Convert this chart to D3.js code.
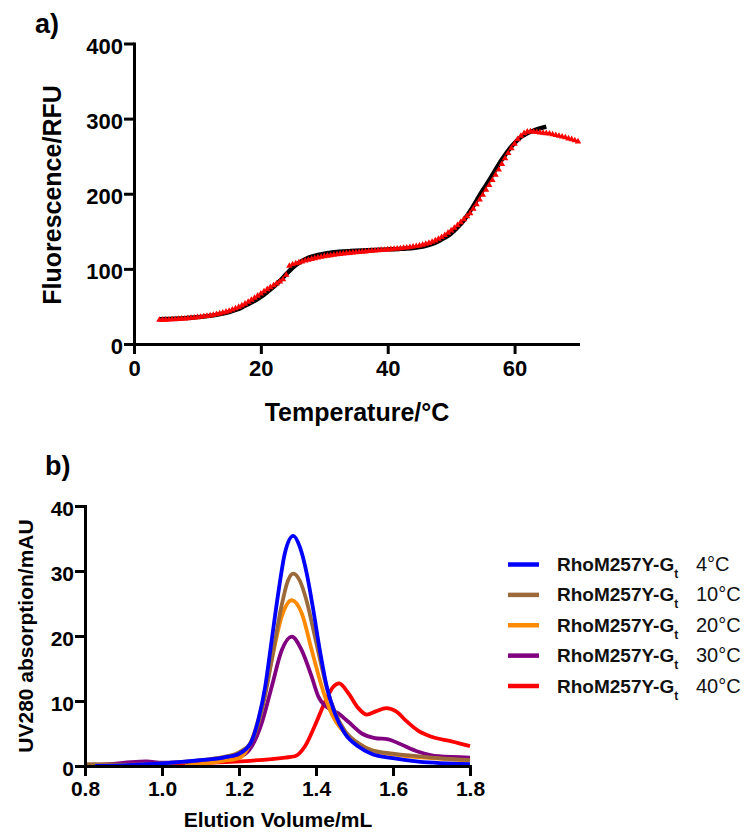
<!DOCTYPE html>
<html>
<head>
<meta charset="utf-8">
<script src="https://cdn.jsdelivr.net/npm/d3@7"></script>
<style>
  html, body { margin: 0; padding: 0; background: #fff; }
  svg { display: block; }
</style>
</head>
<body>
<svg id="fig" width="745" height="833"></svg>
<script>
// ---------- Panel a: thermal melt (DSF) ----------
// fitted curve, [temperature °C, fluorescence RFU]
const fitCurve = [
  [4,33],[5,33.3],[6,33.6],[7,34],[8,34.4],[9,35],[10,35.7],[11,36.5],[12,37.5],[13,38.8],
  [14,40.4],[15,42.5],[16,45.2],[17,48.7],[18,53],[19,57.5],[20,62.5],[21,69],[22,76],[23,84],
  [24,93],[25,101.5],[26,108],[27,112.8],[28,116.2],[29,118.6],[30,120.3],[31,121.5],[32,122.4],
  [33,123.1],[34,123.7],[35,124.2],[36,124.6],[37,125],[38,125.3],[39,125.6],[40,125.9],[41,126.2],
  [42,126.6],[43,127.1],[44,127.8],[45,128.9],[46,130.6],[47,133.2],[48,136.8],[49,141.5],[50,147],
  [51,155],[52,164.5],[53,177],[54,191],[55,205],[56,218],[57,232],[58,245.5],[59,257.5],[60,267.5],
  [61,275.5],[62,280.5],[63,284],[64,287],[65,289.5]
];
// measured points, [temperature °C, fluorescence RFU]
const meltPoints = [
  [4,32],[4.5,32],[5,32.2],[5.5,32.4],[6,32.6],[6.5,32.9],[7,33.2],[7.5,33.5],[8,33.8],[8.5,34.2],
  [9,34.6],[9.5,35],[10,35.5],[10.5,36],[11,36.6],[11.5,37.2],[12,37.9],[12.5,38.7],[13,39.6],[13.5,40.5],
  [14,41.6],[14.5,42.8],[15,44.1],[15.5,45.6],[16,47.3],[16.5,49.2],[17,51.2],[17.5,53.5],[18,56],[18.5,58.6],
  [19,61.4],[19.5,64.2],[20,67],[20.5,70],[21,72.8],[21.5,75.5],[22,78],[22.5,80.5],[23,83],[23.5,86],
  [24,92],[24.5,104],[25,106],[25.5,107.3],[26,108.4],[26.5,109.6],[27,110.8],[27.5,112],[28,113.1],[28.5,114.1],
  [29,115],[29.5,115.9],[30,116.7],[30.5,117.4],[31,118],[31.5,118.6],[32,119.2],[32.5,119.7],[33,120.2],[33.5,120.7],
  [34,121.1],[34.5,121.5],[35,121.9],[35.5,122.3],[36,122.7],[36.5,123.1],[37,123.5],[37.5,123.9],[38,124.3],[38.5,124.6],
  [39,125],[39.5,125.3],[40,125.7],[40.5,126.1],[41,126.5],[41.5,126.9],[42,127.3],[42.5,127.8],[43,128.3],[43.5,128.9],
  [44,129.5],[44.5,130.2],[45,131],[45.5,132],[46,133.1],[46.5,134.4],[47,135.9],[47.5,137.7],[48,139.8],[48.5,142.2],
  [49,144.9],[49.5,148],[50,151],[50.5,154.5],[51,158],[51.5,162],[52,166],[52.5,170],[53,174],[53.5,180],
  [54,186],[54.5,192],[55,198.5],[55.5,205],[56,211.5],[56.5,218],[57,225],[57.5,232],[58,239.5],[58.5,247],
  [59,254],[59.5,260.5],[60,266.5],[60.5,272.5],[61,277],[61.5,280.5],[62,282.5],[62.5,283],[63,282.5],[63.5,282],
  [64,281.5],[64.5,281],[65,280.5],[65.5,280],[66,279],[66.5,278],[67,277],[67.5,276],[68,275],[68.5,273.5],
  [69,272.5],[69.5,271],[70,269.5]
];
const meltTempTicks = [0, 20, 40, 60];
const meltRfuTicks = [0, 100, 200, 300, 400];

// ---------- Panel b: size-exclusion chromatograms ----------
// [elution volume mL, UV280 mAU]
const trace4C = [
  [0.826,0],[0.9,0.1],[1.0,0.4],[1.1,0.9],[1.16,1.3],[1.2,1.9],[1.23,3.5],[1.25,7.1],[1.268,12.2],
  [1.285,19.4],[1.302,26.6],[1.319,32.7],[1.341,35.4],[1.358,33.7],[1.376,29.6],[1.393,24],[1.41,17.8],
  [1.428,12.2],[1.449,8.1],[1.475,5],[1.51,3],[1.545,1.85],[1.6,1.2],[1.666,0.67],[1.8,0.3]
];
const trace10C = [
  [0.8,0.3],[0.85,0.25],[0.9,0.2],[1.0,0.4],[1.1,0.9],[1.16,1.4],[1.2,2.1],[1.23,3.5],[1.25,6.5],
  [1.27,11.5],[1.29,18],[1.31,24.5],[1.327,28.5],[1.341,29.6],[1.358,28.5],[1.376,25.3],[1.393,21],
  [1.41,16.5],[1.428,12],[1.449,8.3],[1.475,5.4],[1.51,3.5],[1.545,2.4],[1.6,1.9],[1.7,1.3],[1.8,0.9]
];
const trace20C = [
  [1.06,0],[1.1,0.3],[1.16,0.8],[1.2,1.2],[1.233,4],[1.259,9.1],[1.285,16.3],[1.311,23],[1.337,25.5],
  [1.363,23.5],[1.389,17.8],[1.415,12.2],[1.44,8.1],[1.47,5.4],[1.51,3.5],[1.545,2.4],[1.6,1.8],
  [1.7,1.2],[1.8,0.8]
];
const trace30C = [
  [0.8,0.1],[0.87,0.3],[0.92,0.6],[0.96,0.7],[1.0,0.5],[1.1,0.8],[1.16,1.1],[1.2,1.4],[1.233,3],
  [1.259,6.6],[1.285,12.2],[1.311,17.8],[1.337,19.9],[1.363,17.8],[1.389,13.7],[1.406,10.7],[1.432,8.9],
  [1.458,8.1],[1.484,6.8],[1.519,5],[1.553,4.3],[1.588,4.1],[1.614,3.5],[1.666,2.2],[1.718,1.5],[1.8,1.3]
];
const trace40C = [
  [0.8,0.15],[0.9,0.3],[1.06,0.4],[1.19,0.67],[1.32,1.3],[1.345,1.5],[1.371,3],[1.397,6.2],[1.423,9.8],
  [1.445,12.2],[1.46,12.7],[1.484,11.2],[1.51,8.9],[1.532,7.9],[1.555,8.4],[1.583,8.9],[1.608,8.4],
  [1.635,6.9],[1.666,5.4],[1.7,4.5],[1.752,3.8],[1.8,3.05]
];
const secTemps = ["4°C", "10°C", "20°C", "30°C", "40°C"];
const secColors = ["#0000ff", "#9c6a3a", "#ff8a00", "#800080", "#ff0000"];
const secVolumeTicks = [0.8, 1.0, 1.2, 1.4, 1.6, 1.8];
const secAbsTicks = [0, 10, 20, 30, 40];

const FONT = "'Liberation Sans', Arial, Helvetica, sans-serif";
const svg = d3.select("#fig");

function styleAxis(g, fontSize) {
  g.select(".domain").attr("stroke", "#000").attr("stroke-width", 3).attr("stroke-linecap", "square");
  g.selectAll(".tick line").attr("stroke", "#000").attr("stroke-width", 3);
  g.selectAll(".tick text")
    .attr("fill", "#000")
    .style("font-family", FONT)
    .style("font-weight", "bold")
    .style("font-size", fontSize + "px");
}

// ===== Panel a =====
const xA = d3.scaleLinear().domain([0, 70]).range([134, 578]);
const yA = d3.scaleLinear().domain([0, 400]).range([344, 43.5]);

svg.append("text").attr("x", 35).attr("y", 33)
  .style("font-family", FONT).style("font-weight", "bold").style("font-size", "27px")
  .text("a)");

const lineA = d3.line().x(d => xA(d[0])).y(d => yA(d[1])).curve(d3.curveMonotoneX);
svg.append("path").datum(fitCurve)
  .attr("d", lineA).attr("fill", "none").attr("stroke", "#000").attr("stroke-width", 4.4);

const tri = d3.symbol().type(d3.symbolTriangle).size(18);
svg.append("g").selectAll("path").data(meltPoints).join("path")
  .attr("d", tri)
  .attr("transform", d => `translate(${xA(d[0])},${yA(d[1])})`)
  .attr("fill", "#ff0000");

const axAx = svg.append("g").attr("transform", `translate(0,${yA(0)})`)
  .call(d3.axisBottom(xA).tickValues(meltTempTicks).tickSize(10).tickSizeOuter(0).tickPadding(6));
styleAxis(axAx, 22);
const axAy = svg.append("g").attr("transform", `translate(${xA(0)},0)`)
  .call(d3.axisLeft(yA).tickValues(meltRfuTicks).tickSize(10).tickSizeOuter(0).tickPadding(1));
styleAxis(axAy, 22);
axAy.selectAll(".tick text").attr("dy", "0.45em");

svg.append("text").attr("x", 357).attr("y", 421).attr("text-anchor", "middle")
  .style("font-family", FONT).style("font-weight", "bold").style("font-size", "25px")
  .text("Temperature/°C");
svg.append("text").attr("transform", "translate(61,195) rotate(-90)").attr("text-anchor", "middle")
  .style("font-family", FONT).style("font-weight", "bold").style("font-size", "25px")
  .text("Fluorescence/RFU");

// ===== Panel b =====
const xB = d3.scaleLinear().domain([0.8, 1.8]).range([85, 470]);
const yB = d3.scaleLinear().domain([0, 40]).range([766, 506]);

svg.append("text").attr("x", 45).attr("y", 475)
  .style("font-family", FONT).style("font-weight", "bold").style("font-size", "27px")
  .text("b)");

const traces = [trace4C, trace10C, trace20C, trace30C, trace40C];
const lineB = d3.line().x(d => xB(d[0])).y(d => yB(d[1])).curve(d3.curveMonotoneX);
// warmest trace at the bottom, 4°C on top
const drawOrder = [4, 3, 2, 1, 0];
svg.append("g").selectAll("path").data(drawOrder).join("path")
  .attr("d", i => lineB(traces[i]))
  .attr("fill", "none")
  .attr("stroke", i => secColors[i])
  .attr("stroke-width", 3.8)
  .attr("stroke-linejoin", "round");

const axBx = svg.append("g").attr("transform", `translate(0,${yB(0)})`)
  .call(d3.axisBottom(xB).tickValues(secVolumeTicks).tickFormat(d3.format(".1f")).tickSize(10).tickSizeOuter(0).tickPadding(5));
styleAxis(axBx, 21);
const axBy = svg.append("g").attr("transform", `translate(${xB(0.8)},0)`)
  .call(d3.axisLeft(yB).tickValues(secAbsTicks).tickSize(10).tickSizeOuter(0).tickPadding(1));
styleAxis(axBy, 21);
axBy.selectAll(".tick text").attr("dy", "0.45em");

svg.append("text").attr("x", 278).attr("y", 827).attr("text-anchor", "middle")
  .style("font-family", FONT).style("font-weight", "bold").style("font-size", "21px")
  .text("Elution Volume/mL");
svg.append("text").attr("transform", "translate(33,636) rotate(-90)").attr("text-anchor", "middle")
  .style("font-family", FONT).style("font-weight", "bold").style("font-size", "21px")
  .text("UV280 absorption/mAU");

// legend
const legendY = d3.scaleLinear().domain([0, 4]).range([564.5, 686]);
const leg = svg.append("g").selectAll("g").data(secTemps).join("g")
  .attr("transform", (d, i) => `translate(0,${legendY(i)})`);
leg.append("line").attr("x1", 508).attr("x2", 539)
  .attr("stroke", (d, i) => secColors[i]).attr("stroke-width", 4.5);
const lt = leg.append("text").attr("x", 557).attr("y", 6.5)
  .style("font-family", FONT).style("font-size", "19px").attr("fill", "#111");
lt.append("tspan").style("font-weight", "bold").text("RhoM257Y-G");
lt.append("tspan").style("font-weight", "bold").style("font-size", "12px").attr("dy", 7).text("t");
leg.append("text").attr("x", 696).attr("y", 6.5)
  .style("font-family", FONT).style("font-size", "20px").attr("fill", "#111")
  .text(d => d);
</script>
</body>
</html>
